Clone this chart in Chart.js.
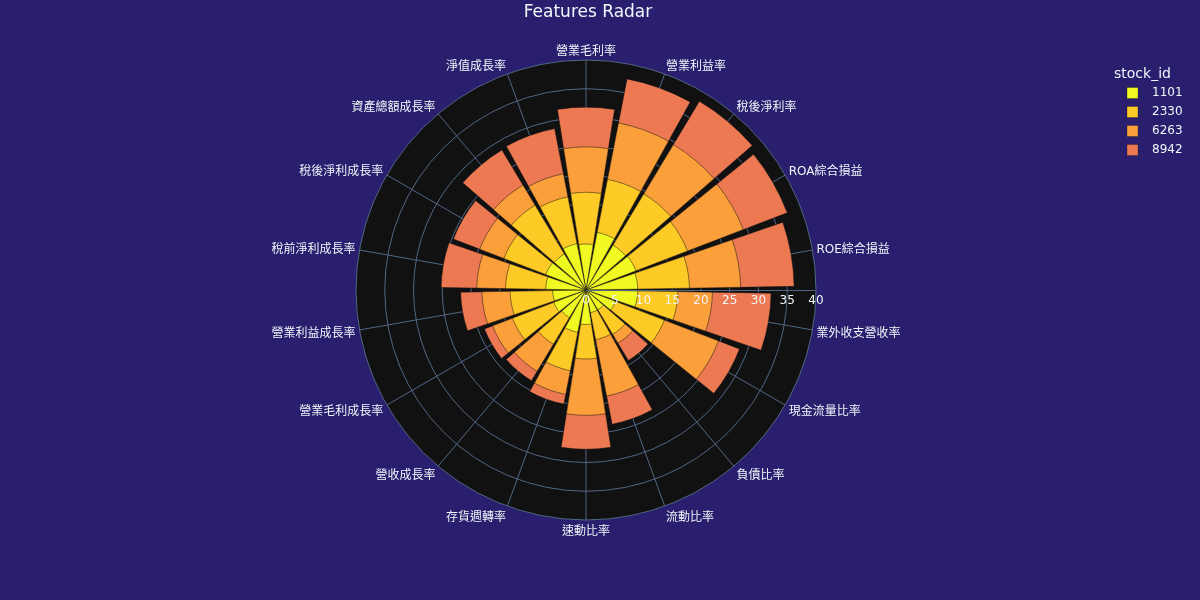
<!DOCTYPE html>
<html>
<head>
<meta charset="utf-8">
<script src="https://cdn.jsdelivr.net/npm/chart.js@4.4.1/dist/chart.umd.min.js"></script>
<style>
html,body{margin:0;padding:0;background:#291f6e;}
#wrap{width:1200px;height:600px;position:relative;}
</style>
</head>
<body>
<div id="wrap"><canvas id="c" width="1200" height="600"></canvas></div>
<script>
// ---- data ----
const categories = ['營業毛利率','營業利益率','稅後淨利率','ROA綜合損益','ROE綜合損益','業外收支營收率','現金流量比率','負債比率','流動比率','速動比率','存貨週轉率','營收成長率','營業毛利成長率','營業利益成長率','稅前淨利成長率','稅後淨利成長率','資產總額成長率','淨值成長率'];
const stockIds = ['1101','2330','6263','8942'];
const v1101 = [8.0, 10.2, 9.1, 9.3, 9.0, 9.0, 5.5, 4.0, 4.0, 6.0, 7.5, 5.6, 6.0, 5.8, 7.0, 7.5, 7.3, 8.2];
const v2330 = [9.0, 9.4, 10.4, 9.6, 9.0, 7.0, 9.1, 5.0, 4.8, 6.0, 6.8, 5.4, 7.7, 7.4, 7.0, 7.8, 9.9, 8.3];
const v6263 = [7.9, 10.0, 10.0, 10.4, 8.9, 6.0, 10.1, 1.8, 10.0, 9.8, 4.2, 5.5, 3.7, 4.9, 5.0, 4.5, 4.1, 4.1];
const v8942 = [6.9, 7.8, 8.8, 8.2, 9.3, 10.2, 3.9, 3.5, 5.0, 5.9, 1.7, 1.9, 1.5, 3.7, 6.2, 4.9, 7.1, 8.0];
const radialTicks = [0, 5, 10, 15, 20, 25, 30, 35, 40];
const seriesColors = ['#f0f921', '#fdca26', '#fb9f3a', '#ed7953'];

const TITLE = 'Features Radar';
const LEGEND_TITLE = 'stock_id';
const PAPER = '#291f6e';
const POLAR_BG = '#111111';
const GRID = '#506784';
const TXT = '#f2f5fa';
const FONT = '"DejaVu Sans", "Noto Sans CJK TC", sans-serif';

// stacked (cumulative) radii for drawing overlapping arcs
const series = [v1101, v2330, v6263, v8942];
const cumulative = [];
let running = categories.map(() => 0);
series.forEach(s => { running = running.map((r, i) => r + s[i]); cumulative.push(running.slice()); });
// interleave bar slots (18 deg) with empty gap slots (2 deg)
const interleave = arr => arr.flatMap(v => [v, 0]);
const slotLabels = categories.flatMap(c => [c, '']);

const BAR_DEG = 18, GAP_DEG = 2;

const deco = {
  id: 'deco',
  beforeDraw(chart) {
    const ctx = chart.ctx, s = chart.scales.r;
    ctx.save();
    ctx.fillStyle = PAPER;
    ctx.fillRect(0, 0, chart.width, chart.height);
    ctx.beginPath();
    ctx.arc(s.xCenter, s.yCenter, s.drawingArea, 0, Math.PI * 2);
    ctx.fillStyle = POLAR_BG;
    ctx.fill();
    ctx.restore();
  },
  beforeDatasetsDraw(chart) {
    const ctx = chart.ctx, s = chart.scales.r;
    ctx.save();
    ctx.strokeStyle = GRID;
    ctx.lineWidth = 1;
    categories.forEach((c, i) => {
      const a = (i * 360 / categories.length - 90) * Math.PI / 180;
      ctx.beginPath();
      ctx.moveTo(s.xCenter, s.yCenter);
      ctx.lineTo(s.xCenter + Math.cos(a) * s.drawingArea, s.yCenter + Math.sin(a) * s.drawingArea);
      ctx.stroke();
    });
    ctx.restore();
  },
  afterDatasetsDraw(chart) {
    const ctx = chart.ctx, s = chart.scales.r;
    const xc = s.xCenter, yc = s.yCenter;
    ctx.save();
    // radial axis line
    ctx.strokeStyle = GRID;
    ctx.lineWidth = 1;
    ctx.beginPath();
    ctx.moveTo(xc, yc + 0.5);
    ctx.lineTo(xc + s.drawingArea, yc + 0.5);
    ctx.stroke();
    // radial tick labels
    ctx.fillStyle = TXT;
    ctx.font = '12px ' + FONT;
    ctx.textAlign = 'center';
    ctx.textBaseline = 'middle';
    radialTicks.forEach(t => {
      ctx.fillText(String(t), xc + s.getDistanceFromCenterForValue(t), yc + 11);
    });
    // angular labels
    const R = s.drawingArea + 4;
    categories.forEach((c, i) => {
      const a = (i * 360 / categories.length - 90) * Math.PI / 180;
      const ca = Math.cos(a), sa = Math.sin(a);
      ctx.textAlign = ca > 0.01 ? 'left' : (ca < -0.01 ? 'right' : 'center');
      ctx.textBaseline = 'middle';
      ctx.fillText(c, xc + ca * R, yc + sa * R + 6 * sa + 2);
    });
    // title
    ctx.font = '17px ' + FONT;
    ctx.textAlign = 'center';
    ctx.fillText(TITLE, 588, 13);
    // legend
    ctx.textAlign = 'left';
    ctx.font = '14px ' + FONT;
    ctx.fillText(LEGEND_TITLE, 1114, 74);
    ctx.font = '12px ' + FONT;
    stockIds.forEach((id, i) => {
      const y = 93 + i * 19;
      ctx.fillStyle = seriesColors[i];
      ctx.fillRect(1127, y - 5.5, 11, 11);
      ctx.strokeStyle = 'rgba(17,17,17,0.6)';
      ctx.lineWidth = 0.5;
      ctx.strokeRect(1127, y - 5.5, 11, 11);
      ctx.fillStyle = TXT;
      ctx.fillText(id, 1152, y);
    });
    ctx.restore();
  }
};

new Chart(document.getElementById('c'), {
  type: 'polarArea',
  data: {
    labels: slotLabels,
    datasets: stockIds.map((id, k) => ({
      label: id,
      data: interleave(cumulative[k]),
      backgroundColor: seriesColors[k],
      borderColor: 'rgb(17,17,17)',
      borderWidth: ctx => (ctx.dataIndex % 2 === 0 ? 0.5 : 0),
      angle: ctx => (ctx.dataIndex % 2 === 0 ? BAR_DEG : GAP_DEG)
    }))
  },
  options: {
    responsive: false,
    animation: false,
    events: [],
    layout: { padding: { left: 356, right: 384, top: 60, bottom: 80 } },
    plugins: { legend: { display: false }, tooltip: { enabled: false }, title: { display: false } },
    scales: {
      r: {
        min: 0,
        max: 40,
        startAngle: -BAR_DEG / 2,
        ticks: { display: false, stepSize: 5 },
        grid: { color: GRID, lineWidth: 1, circular: true },
        angleLines: { display: false },
        pointLabels: { display: false }
      }
    }
  },
  plugins: [deco]
});
</script>
</body>
</html>
